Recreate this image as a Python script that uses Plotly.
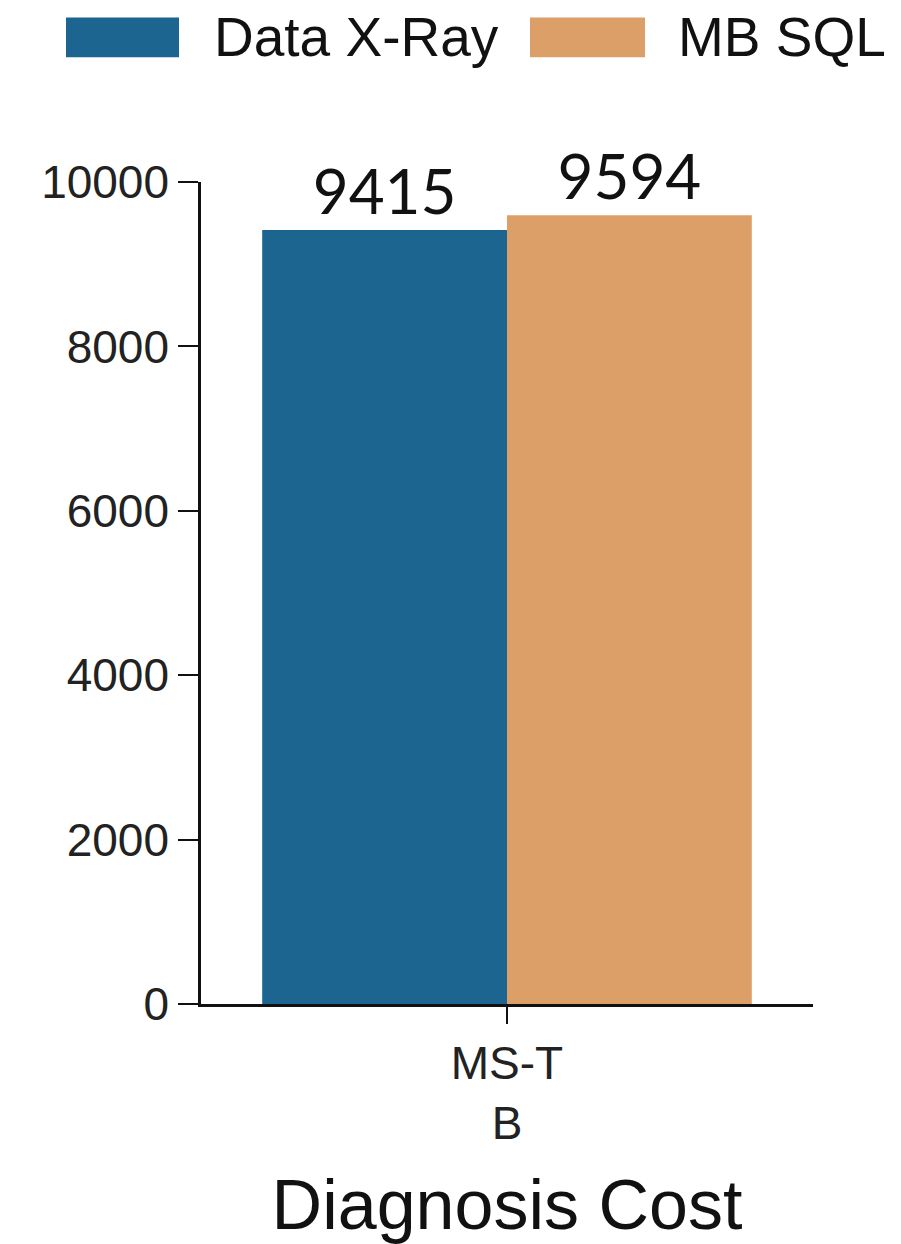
import plotly.graph_objects as go

# Diagnosis cost per method
categories = ["MS-T<br>B"]
methods = ["Data X-Ray", "MB SQL"]
costs = {
    "Data X-Ray": [9415],
    "MB SQL": [9594],
}
colors = {"Data X-Ray": "#1b6590", "MB SQL": "#dc9f68"}
y_ticks = [0, 2000, 4000, 6000, 8000, 10000]

W, H = 901, 1244
L, R, T, B = 201, 88, 182, 238

fig = go.Figure()
for m in methods:
    fig.add_trace(go.Bar(
        x=categories, y=costs[m], name=m,
        marker=dict(color=colors[m], line=dict(width=0)),
        text=costs[m], textposition="outside",
        textfont=dict(family="Lato", size=62, color="#111111"),
        cliponaxis=False, showlegend=False,
    ))

# pixel -> paper helpers for the legend drawn above the plot
pw, ph = W - L - R, H - T - B
def px(x):
    return (x - L) / pw
def py(y):
    return (H - B - y) / ph

legend_items = [
    ("Data X-Ray", 66, 179, 212),
    ("MB SQL", 530, 645, 676),
]
shapes = []
annotations = []
for name, x0, x1, tx in legend_items:
    shapes.append(dict(type="rect", xref="paper", yref="paper",
                       x0=px(x0), x1=px(x1), y0=py(57), y1=py(17),
                       fillcolor=colors[name], line=dict(width=0)))
    annotations.append(dict(text=name, xref="paper", yref="paper",
                            x=px(tx), y=py(37), xanchor="left", yanchor="middle",
                            showarrow=False,
                            font=dict(family="Liberation Sans", size=55, color="#111111")))

fig.update_layout(
    width=W, height=H,
    margin=dict(l=L, r=R, t=T, b=B, pad=0),
    paper_bgcolor="white", plot_bgcolor="white",
    barmode="group", bargap=0.2, bargroupgap=0,
    showlegend=False,
    shapes=shapes, annotations=annotations,
    font=dict(family="Liberation Sans", color="#222222"),
)
fig.update_xaxes(
    showline=True, linecolor="#111111", linewidth=2.5,
    ticks="outside", ticklen=17, tickwidth=1.5, tickcolor="#111111",
    tickfont=dict(size=46, color="#222222"),
    title=dict(text="Diagnosis Cost", font=dict(size=70, color="#111111"), standoff=34),
    showgrid=False,
)
fig.update_yaxes(
    range=[0, 10000], tickvals=y_ticks, ticktext=[str(v) for v in y_ticks],
    showline=True, linecolor="#111111", linewidth=2.5,
    ticks="outside", ticklen=20, tickwidth=2, tickcolor="#111111",
    tickfont=dict(size=46, color="#222222"),
    showgrid=False, zeroline=False,
)

fig.write_html("out.html")
